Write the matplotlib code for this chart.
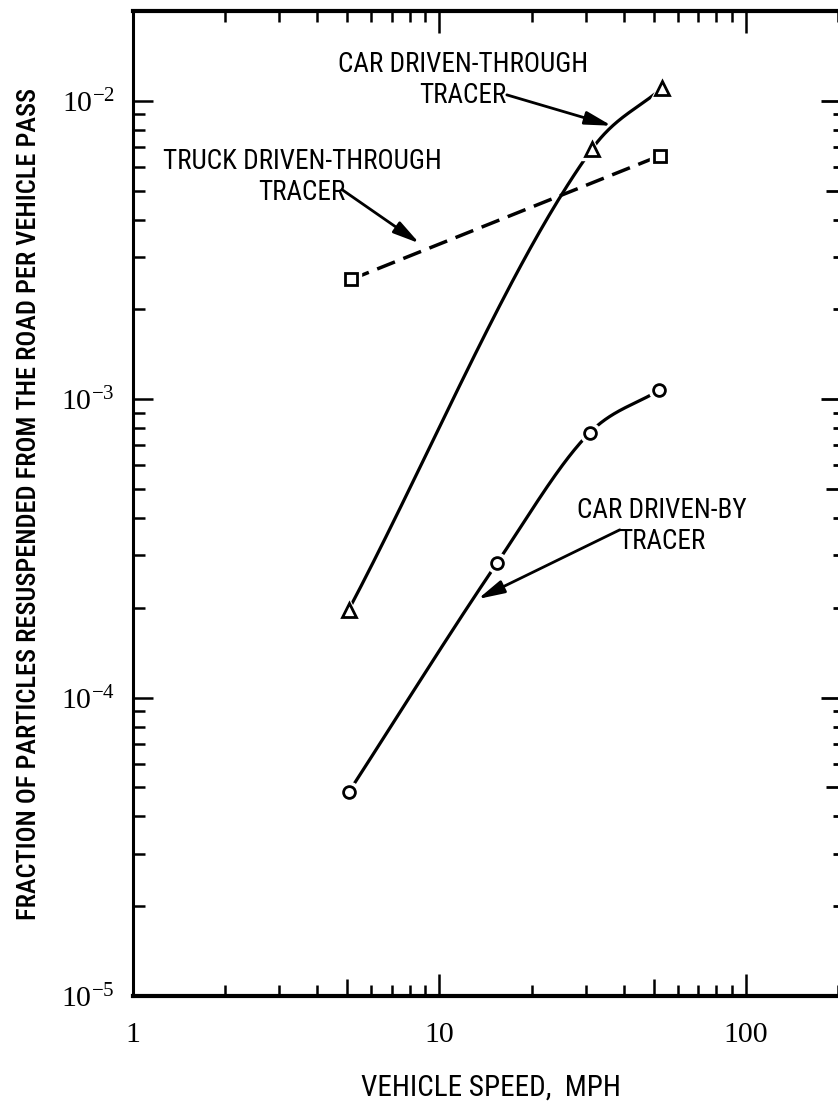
import numpy as np
import matplotlib
matplotlib.use('Agg')
import matplotlib.pyplot as plt
from matplotlib import font_manager
from matplotlib.ticker import LogLocator, NullLocator, FixedLocator, NullFormatter, FixedFormatter

# valeurs (vitesse en mph, fraction remise en suspension)
car_thru_speed = [5.06, 31.5, 53.1]
car_thru_frac = [1.97e-4, 6.9e-3, 1.10e-2]
truck_speed = [5.15, 52.5]
truck_frac = [2.52e-3, 6.55e-3]
car_by_speed = [5.06, 15.4, 30.9, 52.0]
car_by_frac = [4.82e-5, 2.82e-4, 7.71e-4, 1.07e-3]

x_ticks = [1, 10, 100]
x_tick_labels = ['1', '10', '100']
y_ticks = [1e-5, 1e-4, 1e-3, 1e-2]
y_tick_labels = [r'$\mathregular{10^{-5}}$', r'$\mathregular{10^{-4}}$',
                 r'$\mathregular{10^{-3}}$', r'$\mathregular{10^{-2}}$']

noms = {f.name for f in font_manager.fontManager.ttflist}
def choisir(liste):
    for n in liste:
        if n in noms:
            return n
    return 'DejaVu Sans'

etroite = choisir(['Liberation Sans Narrow', 'DejaVu Sans Condensed', 'Roboto Condensed', 'Liberation Sans'])
serif = choisir(['Liberation Serif', 'DejaVu Serif'])


def courbe_lisse(xs, ys, n=80):
    # courbe douce (Hermite) dans l'espace log-log, passant par les points
    lx, ly = np.log10(xs), np.log10(ys)
    d = np.diff(ly) / np.diff(lx)
    m = np.concatenate([[d[0]], (d[:-1] + d[1:]) / 2, [d[-1]]])
    cx, cy = [], []
    s = np.linspace(0, 1, n)
    for i in range(len(lx) - 1):
        h = lx[i + 1] - lx[i]
        h00 = 2 * s**3 - 3 * s**2 + 1
        h10 = s**3 - 2 * s**2 + s
        h01 = -2 * s**3 + 3 * s**2
        h11 = s**3 - s**2
        cx.append(lx[i] + s * h)
        cy.append(h00 * ly[i] + h10 * h * m[i] + h01 * ly[i + 1] + h11 * h * m[i + 1])
    return 10 ** np.concatenate(cx), 10 ** np.concatenate(cy)


fig = plt.figure(figsize=(8.38, 11.01), dpi=100)
ax = fig.add_axes([133 / 838, 1 - 996 / 1101, 705 / 838, 985 / 1101])
ax.set_xscale('log')
ax.set_yscale('log')
ax.set_xlim(1, 200)
ax.set_ylim(1e-5, 2e-2)

lw = 2.3
xc, yc = courbe_lisse(car_thru_speed, car_thru_frac)
ax.plot(xc, yc, color='black', lw=lw)
xc, yc = courbe_lisse(car_by_speed, car_by_frac)
ax.plot(xc, yc, color='black', lw=lw)
ax.plot(truck_speed, truck_frac, color='black', lw=2.5, linestyle=(0, (5.5, 2.6)))

# blanc sous les marqueurs pour couper les lignes
for xs, ys, mk, ms in [(car_thru_speed, car_thru_frac, '^', 10),
                       (truck_speed, truck_frac, 's', 8.5),
                       (car_by_speed, car_by_frac, 'o', 8.5)]:
    ax.plot(xs, ys, linestyle='none', marker=mk, ms=ms + 6, mfc='white', mec='white', zorder=3)
    ax.plot(xs, ys, linestyle='none', marker=mk, ms=ms, mfc='white', mec='black', mew=2, zorder=4)

txt = dict(family=etroite, fontsize=19.5, ha='center', va='center',
           multialignment='center', linespacing=1.2)
fleche = dict(arrowstyle='-|>,head_length=0.8,head_width=0.2', mutation_scale=20,
              lw=2, color='black', shrinkA=0, shrinkB=0)

ax.text(11.93, 1.175e-2, 'CAR DRIVEN-THROUGH\nTRACER', **txt)
ax.annotate('', xy=(36.5, 8.25e-3), xytext=(16.6, 1.047e-2), arrowprops=fleche)

ax.text(3.56, 5.57e-3, 'TRUCK DRIVEN-THROUGH\nTRACER', **txt)
ax.annotate('', xy=(8.61, 3.33e-3), xytext=(4.81, 5.04e-3), arrowprops=fleche)

ax.text(53.2, 3.77e-4, 'CAR DRIVEN-BY\nTRACER', **txt)
ax.annotate('', xy=(13.36, 2.14e-4), xytext=(38.8, 3.65e-4), arrowprops=fleche)

# axes et graduations
for cote, larg in [('left', 2.2), ('bottom', 3.0), ('top', 3.0)]:
    ax.spines[cote].set_linewidth(larg)
ax.spines['right'].set_visible(False)

ax.xaxis.set_major_locator(FixedLocator(x_ticks))
ax.xaxis.set_major_formatter(FixedFormatter(x_tick_labels))
ax.xaxis.set_minor_locator(LogLocator(base=10, subs=[2, 3, 4, 6, 7, 8, 9]))
ax.xaxis.set_minor_formatter(NullFormatter())
ax.yaxis.set_major_locator(FixedLocator(y_ticks))
ax.yaxis.set_major_formatter(FixedFormatter(y_tick_labels))
ax.yaxis.set_minor_locator(LogLocator(base=10, subs=[2, 3, 4, 5, 6, 7, 8, 9]))
ax.yaxis.set_minor_formatter(NullFormatter())

ax.tick_params(which='both', direction='in', top=True, right=False, width=1.8, color='black',
               labelsize=21.5, labelfontfamily=serif)
ax.tick_params(axis='x', which='major', length=16, pad=19)
ax.tick_params(axis='x', which='minor', length=8)
ax.tick_params(axis='y', which='major', length=14.5, pad=13)
ax.tick_params(axis='y', which='minor', length=8.5)

# graduations intermediaires a 5 et 50
sec = ax.secondary_xaxis('bottom')
sec.xaxis.set_major_locator(FixedLocator([5, 50]))
sec.xaxis.set_minor_locator(NullLocator())
sec.tick_params(direction='in', length=12, width=1.8, labelbottom=False)
sec.spines['bottom'].set_visible(False)

sec = ax.secondary_xaxis('top')
sec.xaxis.set_major_locator(FixedLocator([5, 50]))
sec.xaxis.set_minor_locator(NullLocator())
sec.tick_params(direction='in', length=8, width=1.8, labeltop=False)
sec.spines['top'].set_visible(False)

# cote droit
droite = ax.secondary_yaxis('right')
droite.yaxis.set_major_locator(FixedLocator(y_ticks))
droite.yaxis.set_minor_locator(LogLocator(base=10, subs=[2, 3, 4, 6, 7, 8, 9]))
droite.yaxis.set_minor_formatter(NullFormatter())
droite.tick_params(which='major', direction='in', length=12, width=2, labelright=False)
droite.tick_params(which='minor', direction='in', length=3.6, width=2)
droite.spines['right'].set_visible(False)

droite5 = ax.secondary_yaxis('right')
droite5.yaxis.set_major_locator(FixedLocator([5e-5, 5e-4, 5e-3]))
droite5.yaxis.set_minor_locator(NullLocator())
droite5.tick_params(direction='in', length=8.5, width=2, labelright=False)
droite5.spines['right'].set_visible(False)

ax.set_xlabel('VEHICLE SPEED,  MPH', family=etroite, fontsize=21)
ax.xaxis.set_label_coords((491 - 133) / 705, (996 - 1088) / 985)
ax.xaxis.label.set_va('center')
ax.set_ylabel('FRACTION OF PARTICLES RESUSPENDED FROM THE ROAD PER VEHICLE PASS',
              family=etroite, fontsize=19, fontweight='medium')
ax.yaxis.set_label_coords((29 - 133) / 705, 0.5)
ax.yaxis.label.set_va('center')

fig.savefig('out.png', dpi=100)
